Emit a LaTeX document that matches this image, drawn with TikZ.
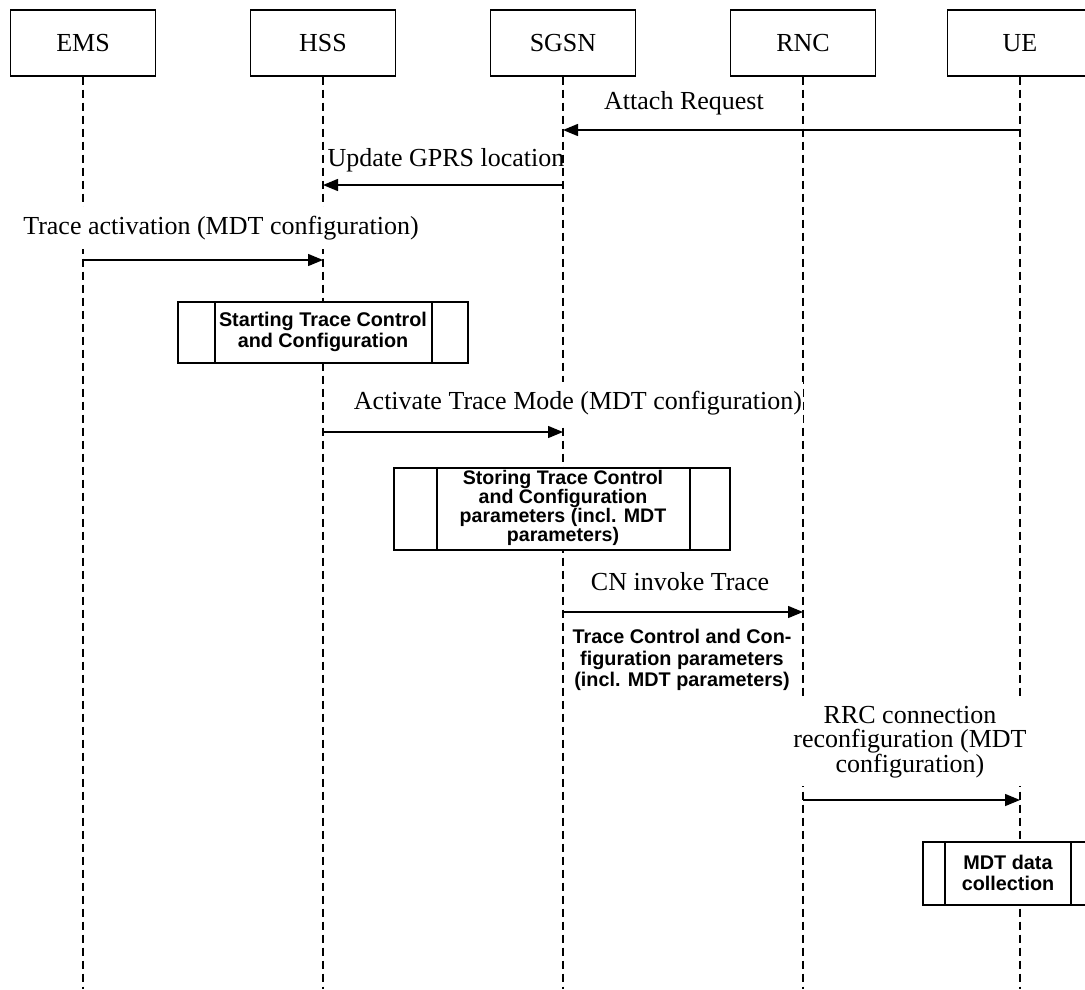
\documentclass[tikz,border=0pt]{standalone}
\usepackage{fontspec}
\setmainfont{Liberation Serif}
\newfontfamily\boxfont{Liberation Sans}
\usetikzlibrary{arrows.meta}
\begin{document}
\begin{tikzpicture}[x=1pt,y=-1pt,
  head/.style={draw, line width=1.2pt, fill=white, minimum width=145, minimum height=66, inner sep=0, font=\fontsize{26}{28}\selectfont},
  life/.style={line width=1.2pt, dash pattern=on 8pt off 5pt},
  msg/.style={line width=1.4pt, -{Triangle[length=15pt,width=12pt]}},
  lbl/.style={fill=white, inner xsep=1pt, inner ysep=8pt, align=center, font=\fontsize{26}{23.6}\selectfont},
  boldtxt/.style={align=center, inner sep=0pt, font=\boxfont\bfseries\fontsize{19.8}{21.5}\selectfont},
  pbox/.style={draw, line width=1.2pt, fill=white},
  pline/.style={line width=1.2pt}]
\useasboundingbox (0,0) rectangle (1085,989);
\clip (0,0) rectangle (1085,989);
% headers
\node[head] (ems)  at (83,43)   {EMS};
\node[head] (hss)  at (323,43)  {HSS};
\node[head] (sgsn) at (563,43)  {SGSN};
\node[head] (rnc)  at (803,43)  {RNC};
\node[head] (ue)   at (1020,43) {UE};
\coordinate (bottom) at (0,989);
% lifelines
\foreach \n in {ems,hss,sgsn,rnc,ue}
  \draw[life] (\n.south) -- (\n.south |- bottom);
% message rows
\coordinate (m1) at (0,130);
\coordinate (m2) at (0,185);
\coordinate (m3) at (0,260);
\coordinate (m4) at (0,432);
\coordinate (m5) at (0,612);
\coordinate (m6) at (0,800);
% messages
\node[lbl, fill=none] (l1) at (684,103) {Attach Request};
\draw[msg] (ue |- m1) -- (sgsn |- m1);
\node[lbl, fill=none] (l2) at (446,160) {Update GPRS location};
\draw[msg] (sgsn |- m2) -- (hss |- m2);
\node[lbl, inner ysep=9pt] (l3) at (221,228) {Trace activation (MDT configuration)};
\draw[msg] (ems |- m3) -- (hss |- m3);
% Starting box
\draw[pbox] (178,302) rectangle (468,363);
\draw[pline] (215,302) -- (215,363) (432,302) -- (432,363);
\node[boldtxt, font=\boxfont\bfseries\fontsize{19.8}{21.7}\selectfont] (p1) at (323,332) {Starting Trace Control\\and Configuration};
\node[lbl, inner ysep=9pt] (l4) at (578,403) {Activate Trace Mode (MDT configuration)};
\draw[msg] (hss |- m4) -- (sgsn |- m4);
% Storing box
\draw[pbox] (394,468) rectangle (730,550);
\draw[pline] (437,468) -- (437,550) (690,468) -- (690,550);
\node[boldtxt, font=\boxfont\bfseries\fontsize{19.6}{19.1}\selectfont] (p2) at (563,508) {Storing Trace Control\\and Configuration\\parameters (incl. MDT\\parameters)};
\node[lbl, fill=none] (l5) at (680,582) {CN invoke Trace};
\draw[msg] (sgsn |- m5) -- (rnc |- m5);
\node[boldtxt] (l6) at (682,660) {Trace Control and Con-\\figuration parameters\\(incl. MDT parameters)};
\node[lbl] (l7) at (910,742) {RRC connection\\reconfiguration (MDT\\configuration)};
\draw[msg] (rnc |- m6) -- (ue |- m6);
% MDT box
\draw[pbox] (923,842) rectangle (1110,905);
\draw[pline] (945,842) -- (945,905) (1071,842) -- (1071,905);
\node[boldtxt] (p3) at (1008,873) {MDT data\\collection};
\end{tikzpicture}
\end{document}
